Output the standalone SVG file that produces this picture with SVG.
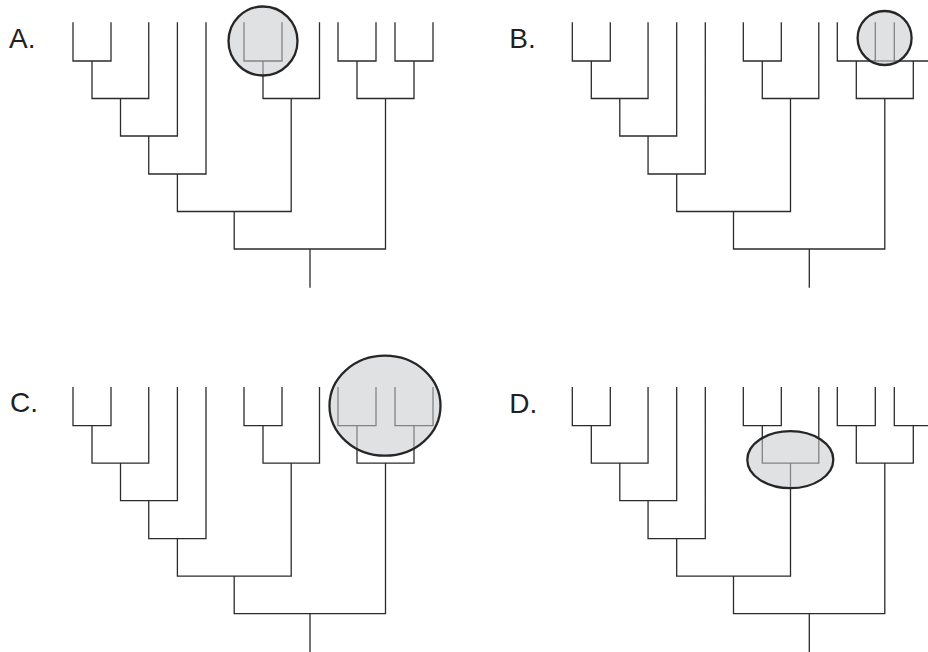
<svg xmlns="http://www.w3.org/2000/svg" xmlns:xlink="http://www.w3.org/1999/xlink" width="928" height="652" viewBox="0 0 928 652">
<style>
.tree{fill:none;stroke:#2b2b2b;stroke-width:1.3;stroke-linecap:square}
.hl{fill:#c8c9cd;fill-opacity:0.56;stroke:#262626;stroke-width:2.3}
.lbl{font-family:"Liberation Sans",Arial,sans-serif;font-size:28px;fill:#231f20}
</style>
<defs>
<path id="tree" class="tree" d="M73,23V61H111V23 M92,61V98.5H148.75V23 M120.5,98.5V136H177.4V23 M148.75,136V174H206V23 M177.4,174V211.5H291.2V98.5 M244,23V61H282V23 M263,61V98.5H319.5V23 M234.2,211.5V249H385.5V98.5 M310,249V287 M338,23V61H376V23 M395,23V61H433V23 M357,61V98.5H414V61"/>
</defs>
<rect width="928" height="652" fill="#fff"/>
<g id="panelA">
<text class="lbl" x="9" y="48">A.</text>
<use xlink:href="#tree" href="#tree"/>
<circle class="hl" cx="263" cy="41" r="34.5"/>
</g>
<g id="panelB" transform="translate(499.3,0)">
<text class="lbl" x="10" y="48">B.</text>
<use xlink:href="#tree" href="#tree"/>
<path class="tree" d="M376,61H395"/>
<circle class="hl" cx="385.3" cy="38" r="27"/>
</g>
<g id="panelC" transform="translate(0,364.7)">
<text class="lbl" x="10" y="47">C.</text>
<use xlink:href="#tree" href="#tree"/>
<ellipse class="hl" cx="385" cy="41" rx="55.5" ry="50"/>
</g>
<g id="panelD" transform="translate(499.3,364.7)">
<text class="lbl" x="10" y="48">D.</text>
<use xlink:href="#tree" href="#tree"/>
<ellipse class="hl" cx="291" cy="95" rx="43" ry="28.5"/>
</g>
</svg>
